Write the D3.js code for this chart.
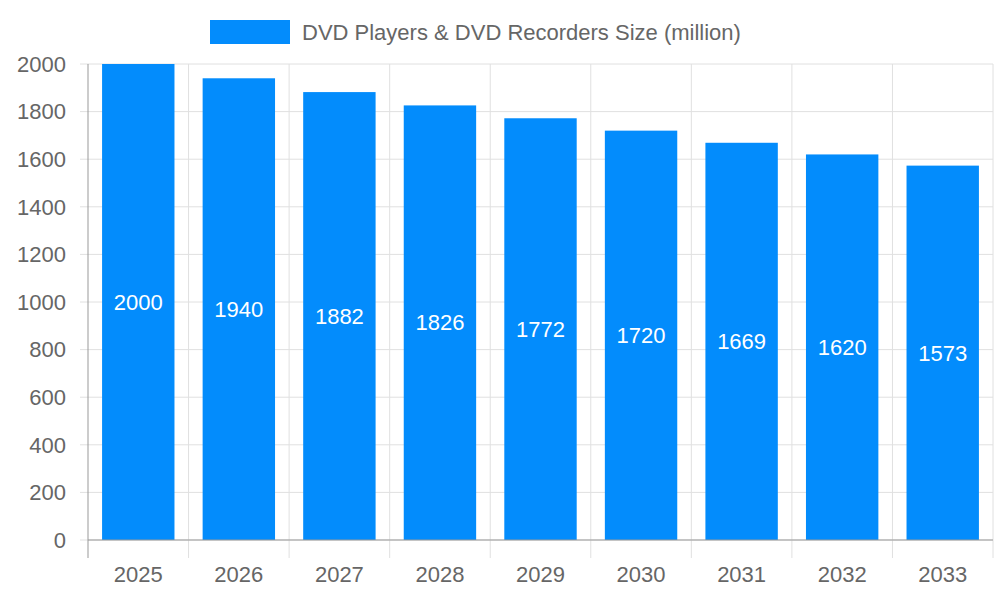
<!DOCTYPE html>
<html>
<head>
<meta charset="utf-8">
<script src="https://cdn.jsdelivr.net/npm/d3@7"></script>
<style>
  body { margin: 0; background: #fff; }
  text { font-family: "Liberation Sans", Arial, sans-serif; }
</style>
</head>
<body>
<svg id="chart" width="1000" height="600"></svg>
<script>
// --- DATA ---
const years = ['2025', '2026', '2027', '2028', '2029', '2030', '2031', '2032', '2033'];
const sizes = [2000, 1940, 1882, 1826, 1772, 1720, 1669, 1620, 1573];
const yTicks = [0, 200, 400, 600, 800, 1000, 1200, 1400, 1600, 1800, 2000];
const seriesName = 'DVD Players & DVD Recorders Size (million)';

const margin = { top: 64, right: 7, bottom: 60, left: 88 };
const width = 1000 - margin.left - margin.right;
const height = 600 - margin.top - margin.bottom;
const barColor = '#038cfc';

const svg = d3.select('#chart');
const g = svg.append('g').attr('transform', `translate(${margin.left},${margin.top})`);

const x = d3.scaleBand().domain(years).range([0, width]).paddingInner(0.28).paddingOuter(0.14);
const y = d3.scaleLinear().domain([0, 2000]).range([height, 0]);
const step = x.step();

// horizontal grid
g.selectAll('.hgrid').data(yTicks).enter().append('line')
    .attr('x1', -8).attr('x2', width)
    .attr('y1', d => y(d)).attr('y2', d => y(d))
    .attr('stroke', '#e0e0e0');

// vertical grid at band boundaries
const bounds = d3.range(years.length + 1);
g.selectAll('.vgrid').data(bounds).enter().append('line')
    .attr('x1', i => i * step).attr('x2', i => i * step)
    .attr('y1', 0).attr('y2', height + 18)
    .attr('stroke', (i) => i === 0 ? '#999' : '#e0e0e0');

// bars
g.selectAll('.bar').data(sizes).enter().append('rect')
    .attr('x', (d, i) => x(years[i]))
    .attr('y', d => y(d))
    .attr('width', x.bandwidth())
    .attr('height', d => height - y(d))
    .attr('fill', barColor);

// value labels
g.selectAll('.val').data(sizes).enter().append('text')
    .attr('x', (d, i) => x(years[i]) + x.bandwidth() / 2)
    .attr('y', d => (y(d) + height) / 2)
    .attr('dy', '0.35em')
    .attr('text-anchor', 'middle')
    .attr('fill', '#fff')
    .attr('font-size', 22)
    .text(d => d);

// x axis line
g.append('line').attr('x1', 0).attr('x2', width).attr('y1', height).attr('y2', height)
    .attr('stroke', '#999');

// x labels
g.selectAll('.xl').data(years).enter().append('text')
    .attr('x', d => x(d) + x.bandwidth() / 2)
    .attr('y', height + 34)
    .attr('dy', '0.35em')
    .attr('text-anchor', 'middle')
    .attr('fill', '#666')
    .attr('font-size', 22)
    .text(d => d);

// y labels
g.selectAll('.yl').data(yTicks).enter().append('text')
    .attr('x', -22)
    .attr('y', d => y(d))
    .attr('dy', '0.35em')
    .attr('text-anchor', 'end')
    .attr('fill', '#666')
    .attr('font-size', 22)
    .text(d => d);

// legend
svg.append('rect').attr('x', 210).attr('y', 20).attr('width', 80).attr('height', 24).attr('fill', barColor);
svg.append('text').attr('x', 302).attr('y', 32).attr('dy', '0.35em')
    .attr('fill', '#666').attr('font-size', 22).text(seriesName);
</script>
</body>
</html>
